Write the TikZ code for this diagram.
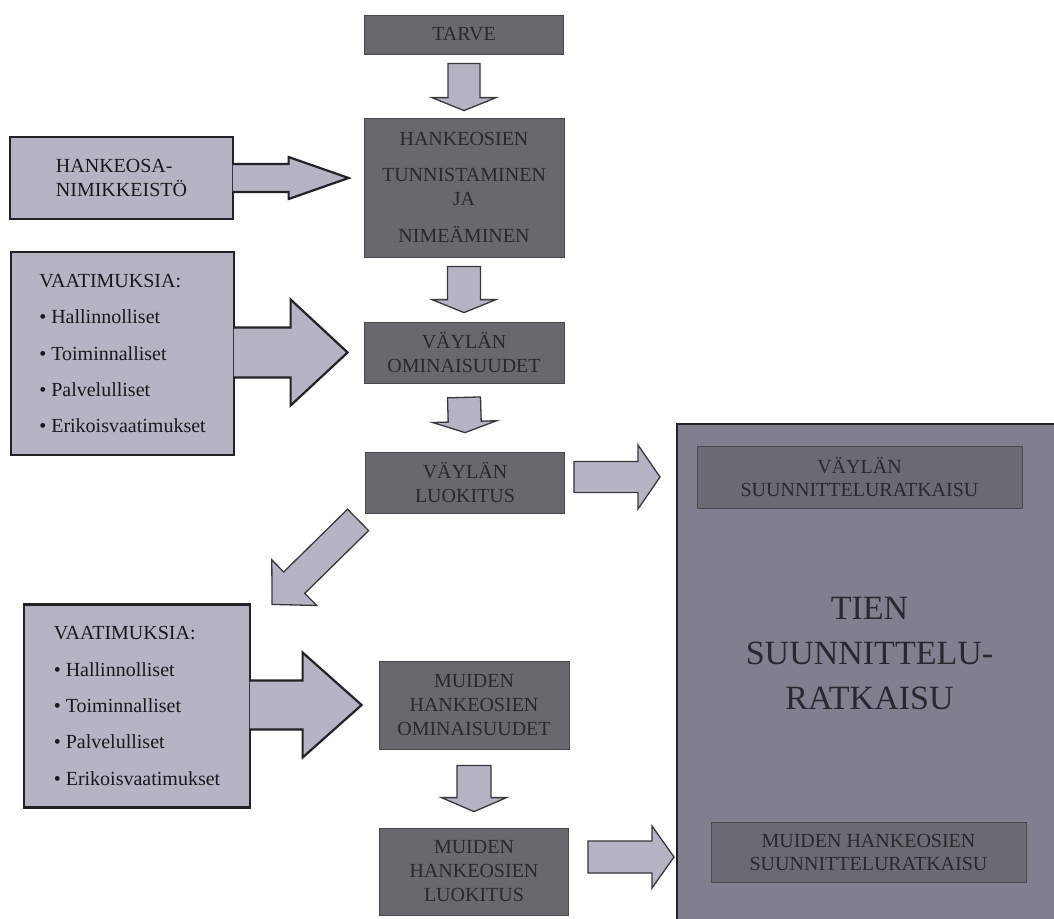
\documentclass[tikz,border=0pt]{standalone}
\usepackage{fontspec}
\setmainfont{Liberation Serif}
\usetikzlibrary{calc}

\definecolor{darkfill}{HTML}{69686F}
\definecolor{darkline}{HTML}{48484E}
\definecolor{darktext}{HTML}{28282D}
\definecolor{lightfill}{HTML}{B5B4C4}
\definecolor{bigfill}{HTML}{807F90}
\definecolor{innerfill}{HTML}{6B6A72}
\definecolor{edge}{HTML}{222226}

% closed block arrow: [style]{from}{to}{shaft half width}{head half width}{head length}
\newcommand\blockarrow[6][]{%
  \coordinate (ba-h) at ($(#3)!#6!(#2)$);
  \filldraw[arrowshape,#1] ($(#2)!#4!90:(#3)$) -- ($(ba-h)!#4!90:(#3)$)
    -- ($(ba-h)!#5!90:(#3)$) -- (#3) -- ($(ba-h)!#5!-90:(#3)$)
    -- ($(ba-h)!#4!-90:(#3)$) -- ($(#2)!#4!-90:(#3)$) -- cycle;}

% block arrow growing out of a box: its back end is left open
\newcommand\joinarrow[6][]{%
  \coordinate (ba-h) at ($(#3)!#6!(#2)$);
  \filldraw[joinshape,#1] ($(#2)!#4!90:(#3)$) -- ($(ba-h)!#4!90:(#3)$)
    -- ($(ba-h)!#5!90:(#3)$) -- (#3) -- ($(ba-h)!#5!-90:(#3)$)
    -- ($(ba-h)!#4!-90:(#3)$) -- ($(#2)!#4!-90:(#3)$);}

\begin{document}
\begin{tikzpicture}[x=1pt,y=-1pt,
  darkbox/.style={draw=darkline, line width=0.8pt, fill=darkfill, text=darktext,
    inner sep=0pt, align=center, font=\fontsize{20pt}{24pt}\selectfont},
  lightbox/.style={draw=edge, line width=2.2pt, fill=lightfill, text=black!90,
    inner sep=0pt, align=left, font=\fontsize{20pt}{23.5pt}\selectfont},
  listbox/.style={lightbox, font=\fontsize{20pt}{36.3pt}\selectfont},
  bigbox/.style={draw=edge, line width=2pt, fill=bigfill, inner sep=0pt},
  innerbox/.style={draw=darkline, line width=0.8pt, fill=innerfill, text=darktext,
    inner sep=0pt, align=center, font=\fontsize{20pt}{23pt}\selectfont},
  bigtext/.style={text=darktext, align=center, inner sep=0pt,
    font=\fontsize{34pt}{45pt}\selectfont},
  arrowshape/.style={fill=lightfill, draw=edge!90, line width=1.3pt, line join=miter},
  joinshape/.style={fill=lightfill, draw=edge, line width=2.2pt, line join=miter}]

\useasboundingbox (0,0) rectangle (1054,918);
\clip (0,0) rectangle (1054,918);
\fill[white] (0,0) rectangle (1054,918);

% result block on the right
\node[bigbox, minimum width=385pt, minimum height=502pt] (tien) at (869.5,675) {};
\node[innerbox, minimum width=325pt, minimum height=62pt] (vsuun) at (859.5,477)
  {VÄYLÄN\\SUUNNITTELURATKAISU};
\node[innerbox, minimum width=315pt, minimum height=60pt] (msuun) at (868.5,852)
  {MUIDEN HANKEOSIEN\\SUUNNITTELURATKAISU};
\node[bigtext] (tienlabel) at ($(tien.center)+(0,-21)$)
  {TIEN\\SUUNNITTELU-\\RATKAISU};

% main column
\node[darkbox, minimum width=199pt, minimum height=39pt] (tarve) at (464,34.5) {TARVE};
\node[darkbox, minimum width=200pt, minimum height=139pt] (tunn) at (464,187.5)
  {HANKEOSIEN\\[12pt]TUNNISTAMINEN\\JA\\[13pt]NIMEÄMINEN};
\node[darkbox, minimum width=200pt, minimum height=61pt] (vomin) at (464,352.5)
  {VÄYLÄN\\OMINAISUUDET};
\node[darkbox, minimum width=199pt, minimum height=61pt] (vluok) at (465,482.5)
  {VÄYLÄN\\LUOKITUS};
\node[darkbox, minimum width=190pt, minimum height=88pt] (momin) at (474,705)
  {MUIDEN\\HANKEOSIEN\\OMINAISUUDET};
\node[darkbox, minimum width=189pt, minimum height=87pt] (mluok) at (474,871.5)
  {MUIDEN\\HANKEOSIEN\\LUOKITUS};

% inputs on the left
\node[lightbox, minimum width=223pt, minimum height=82pt] (nimik) at (121.5,178)
  {HANKEOSA-\\NIMIKKEISTÖ};
\node[listbox, minimum width=223pt, minimum height=203pt] (vaat1) at (122.5,353.5)
  {VAATIMUKSIA:\\• Hallinnolliset\\• Toiminnalliset\\• Palvelulliset\\• Erikoisvaatimukset};
\node[listbox, minimum width=226pt, minimum height=203pt] (vaat2) at (137,706)
  {VAATIMUKSIA:\\• Hallinnolliset\\• Toiminnalliset\\• Palvelulliset\\• Erikoisvaatimukset};

% arrow end points
\coordinate (a1s) at ([yshift=-9pt]tarve.south);
\coordinate (a1t) at ([yshift=7pt]tunn.north);
\coordinate (a2s) at ([yshift=-9pt]tunn.south);
\coordinate (a2t) at ([yshift=9pt]vomin.north);
\coordinate (a3s) at ([yshift=-14pt]vomin.south);
\coordinate (a3t) at ([yshift=19pt]vluok.north);
\coordinate (a4s) at ([yshift=-16pt]momin.south);
\coordinate (a4t) at ([yshift=16pt]mluok.north);
\coordinate (n1t) at ([xshift=-15pt]tunn.west |- nimik.east);
\coordinate (n1s) at ([xshift=-1.2pt]nimik.east);
\coordinate (v1t) at ([xshift=-16pt]vomin.west);
\coordinate (v1s) at ([xshift=-1.2pt]vaat1.east |- v1t);
\coordinate (v2t) at ([xshift=-17pt]momin.west);
\coordinate (v2s) at ([xshift=-1.2pt]vaat2.east |- v2t);
\coordinate (dgs) at ([shift={(-7pt,-6.5pt)}]vluok.south west);
\coordinate (dgt) at ([shift={(21pt,-1pt)}]vaat2.north east);
\coordinate (r1t) at ($(vsuun.west -| tien.west)+(-16pt,0pt)$);
\coordinate (r1s) at ($(vluok.east |- r1t)+(9pt,0pt)$);
\coordinate (r2t) at ($(tien.west |- msuun.west)+(-2pt,-5pt)$);
\coordinate (r2s) at ($(mluok.east |- r2t)+(19pt,0pt)$);

% flow arrows
\blockarrow{a1s}{a1t}{16pt}{32pt}{13pt}
\blockarrow{a2s}{a2t}{16.5pt}{32pt}{13pt}
\blockarrow{a3s}{a3t}{16.5pt}{32pt}{11pt}
\blockarrow{a4s}{a4t}{17pt}{32.5pt}{14pt}
\blockarrow{dgs}{dgt}{15pt}{32pt}{31pt}
\blockarrow{r1s}{r1t}{15.5pt}{32pt}{22pt}
\blockarrow{r2s}{r2t}{16pt}{31pt}{22pt}
\joinarrow{n1s}{n1t}{14pt}{21pt}{60pt}
\joinarrow{v1s}{v1t}{25pt}{53pt}{57pt}
\joinarrow{v2s}{v2t}{24.5pt}{52.5pt}{59pt}
\end{tikzpicture}
\end{document}
